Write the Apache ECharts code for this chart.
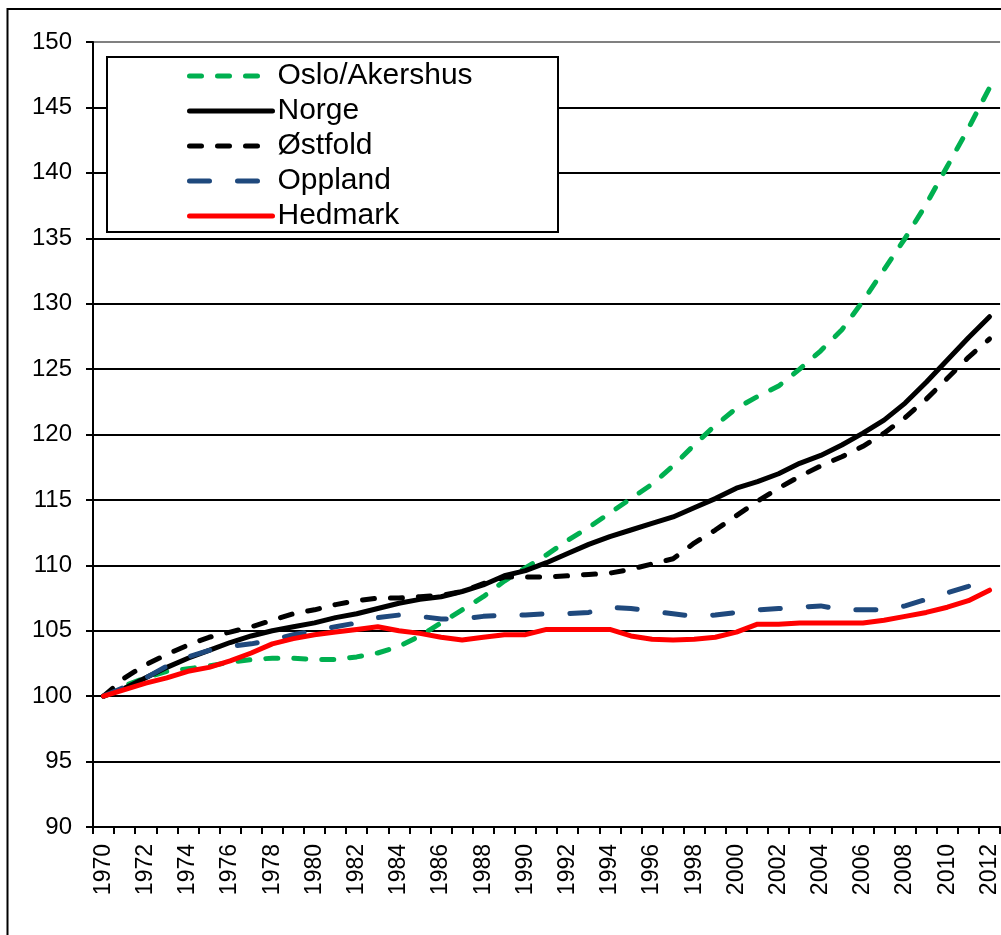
<!DOCTYPE html>
<html>
<head>
<meta charset="utf-8">
<script src="https://cdn.jsdelivr.net/npm/echarts@6/dist/echarts.min.js"></script>
<style>
html,body{margin:0;padding:0;background:#fff;}
#chart{width:1001px;height:935px;}
</style>
</head>
<body>
<div id="chart"></div>
<script>
const years = ['1970','1971','1972','1973','1974','1975','1976','1977','1978','1979',
  '1980','1981','1982','1983','1984','1985','1986','1987','1988','1989',
  '1990','1991','1992','1993','1994','1995','1996','1997','1998','1999',
  '2000','2001','2002','2003','2004','2005','2006','2007','2008','2009',
  '2010','2011','2012'];

const osloAkershus = [100,100.8,101.4,101.9,102.1,102.3,102.6,102.8,102.9,102.9,
  102.8,102.8,103.0,103.3,103.8,104.6,105.6,106.6,107.6,108.8,
  109.8,110.8,111.9,112.9,114.0,115.1,116.2,117.6,119.2,120.7,
  122.0,122.9,123.7,125.0,126.4,128.0,130.2,132.6,135.0,137.6,
  140.5,143.4,146.5];

const norge = [100,100.6,101.4,102.2,102.9,103.5,104.1,104.6,105.0,105.3,
  105.6,106.0,106.3,106.7,107.1,107.4,107.6,108.0,108.5,109.2,
  109.6,110.2,110.9,111.6,112.2,112.7,113.2,113.7,114.4,115.1,
  115.9,116.4,117.0,117.8,118.4,119.2,120.1,121.1,122.4,124.0,
  125.7,127.4,129.0];

const ostfold = [100,101.4,102.4,103.2,103.9,104.5,104.9,105.3,105.8,106.3,
  106.6,107.0,107.3,107.5,107.5,107.6,107.7,108.0,108.6,109.1,
  109.1,109.1,109.2,109.3,109.4,109.7,110.1,110.5,111.7,112.7,
  113.8,114.9,115.9,116.8,117.6,118.3,119.1,120.1,121.3,122.7,
  124.3,125.9,127.3];

const oppland = [100,100.7,101.4,102.3,103.0,103.5,103.8,104.0,104.3,104.7,
  105.0,105.3,105.6,106.0,106.2,106.1,105.9,105.9,106.1,106.2,
  106.2,106.3,106.3,106.4,106.8,106.7,106.5,106.3,106.1,106.2,
  106.4,106.6,106.7,106.8,106.9,106.6,106.6,106.6,106.9,107.4,
  107.9,108.4,109.0];

const hedmark = [100,100.5,101.0,101.4,101.9,102.2,102.7,103.3,104.0,104.4,
  104.7,104.9,105.1,105.3,105.0,104.8,104.5,104.3,104.5,104.7,
  104.7,105.1,105.1,105.1,105.1,104.6,104.35,104.3,104.35,104.5,
  104.9,105.5,105.5,105.6,105.6,105.6,105.6,105.8,106.1,106.4,
  106.8,107.3,108.1];

const seriesNames = ['Oslo/Akershus','Norge','Østfold','Oppland','Hedmark'];

const FONT = '"Liberation Sans", Arial, sans-serif';

const chart = echarts.init(document.getElementById('chart'), null, {renderer:'canvas'});

function lineSeries(name, data, color, type) {
  return {
    name: name,
    type: 'line',
    data: data,
    symbol: 'none',
    smooth: false,
    z: 2,
    lineStyle: {color: color, width: 5, type: type, cap: 'round', join: 'round'},
    itemStyle: {color: color}
  };
}

const gridColors = [];
for (let i = 0; i < 12; i++) gridColors.push('#000');
gridColors.push('#808080');

chart.setOption({
  animation: false,
  backgroundColor: '#fff',
  grid: {left: 93, right: 0, top: 42, bottom: 108, containLabel: false},
  xAxis: {
    type: 'category',
    data: years,
    boundaryGap: true,
    axisLine: {show: true, lineStyle: {color: '#000', width: 2}},
    axisTick: {show: true, interval: 0, length: 7, inside: false, lineStyle: {color: '#000', width: 2}},
    axisLabel: {interval: 1, rotate: 90, margin: 17, color: '#000', fontSize: 23, fontFamily: FONT},
    splitLine: {show: false}
  },
  yAxis: {
    type: 'value',
    min: 90, max: 150, interval: 5,
    axisLine: {show: true, lineStyle: {color: '#000', width: 2}},
    axisTick: {show: true, length: 7, lineStyle: {color: '#000', width: 2}},
    axisLabel: {color: '#000', fontSize: 24, fontFamily: FONT, margin: 21},
    splitLine: {show: true, lineStyle: {color: gridColors, width: 2}}
  },
  legend: {
    show: true,
    orient: 'vertical',
    left: 187, top: 61,
    padding: 0,
    itemWidth: 83, itemHeight: 14, itemGap: 5,
    itemStyle: {opacity: 0, borderWidth: 0},
    lineStyle: {width: 5, cap: 'round'},
    textStyle: {color: '#000', fontSize: 30, fontFamily: FONT, lineHeight: 30, padding: [0,0,0,0]},
    data: seriesNames,
    z: 5
  },
  graphic: [
    {type: 'rect', z: 4, shape: {x: 107, y: 57, width: 451, height: 175},
     style: {fill: '#fff', stroke: '#000', lineWidth: 2}},
    {type: 'rect', z: 10, silent: true, shape: {x: 7.5, y: 9, width: 1200, height: 1200},
     style: {fill: 'none', stroke: '#000', lineWidth: 2}}
  ],
  series: [
    lineSeries(seriesNames[0], osloAkershus, '#00B050', [12, 16]),
    lineSeries(seriesNames[1], norge, '#000000', 'solid'),
    lineSeries(seriesNames[2], ostfold, '#000000', [12, 16]),
    lineSeries(seriesNames[3], oppland, '#1F497D', [20, 28]),
    lineSeries(seriesNames[4], hedmark, '#FF0000', 'solid')
  ]
});
</script>
</body>
</html>
